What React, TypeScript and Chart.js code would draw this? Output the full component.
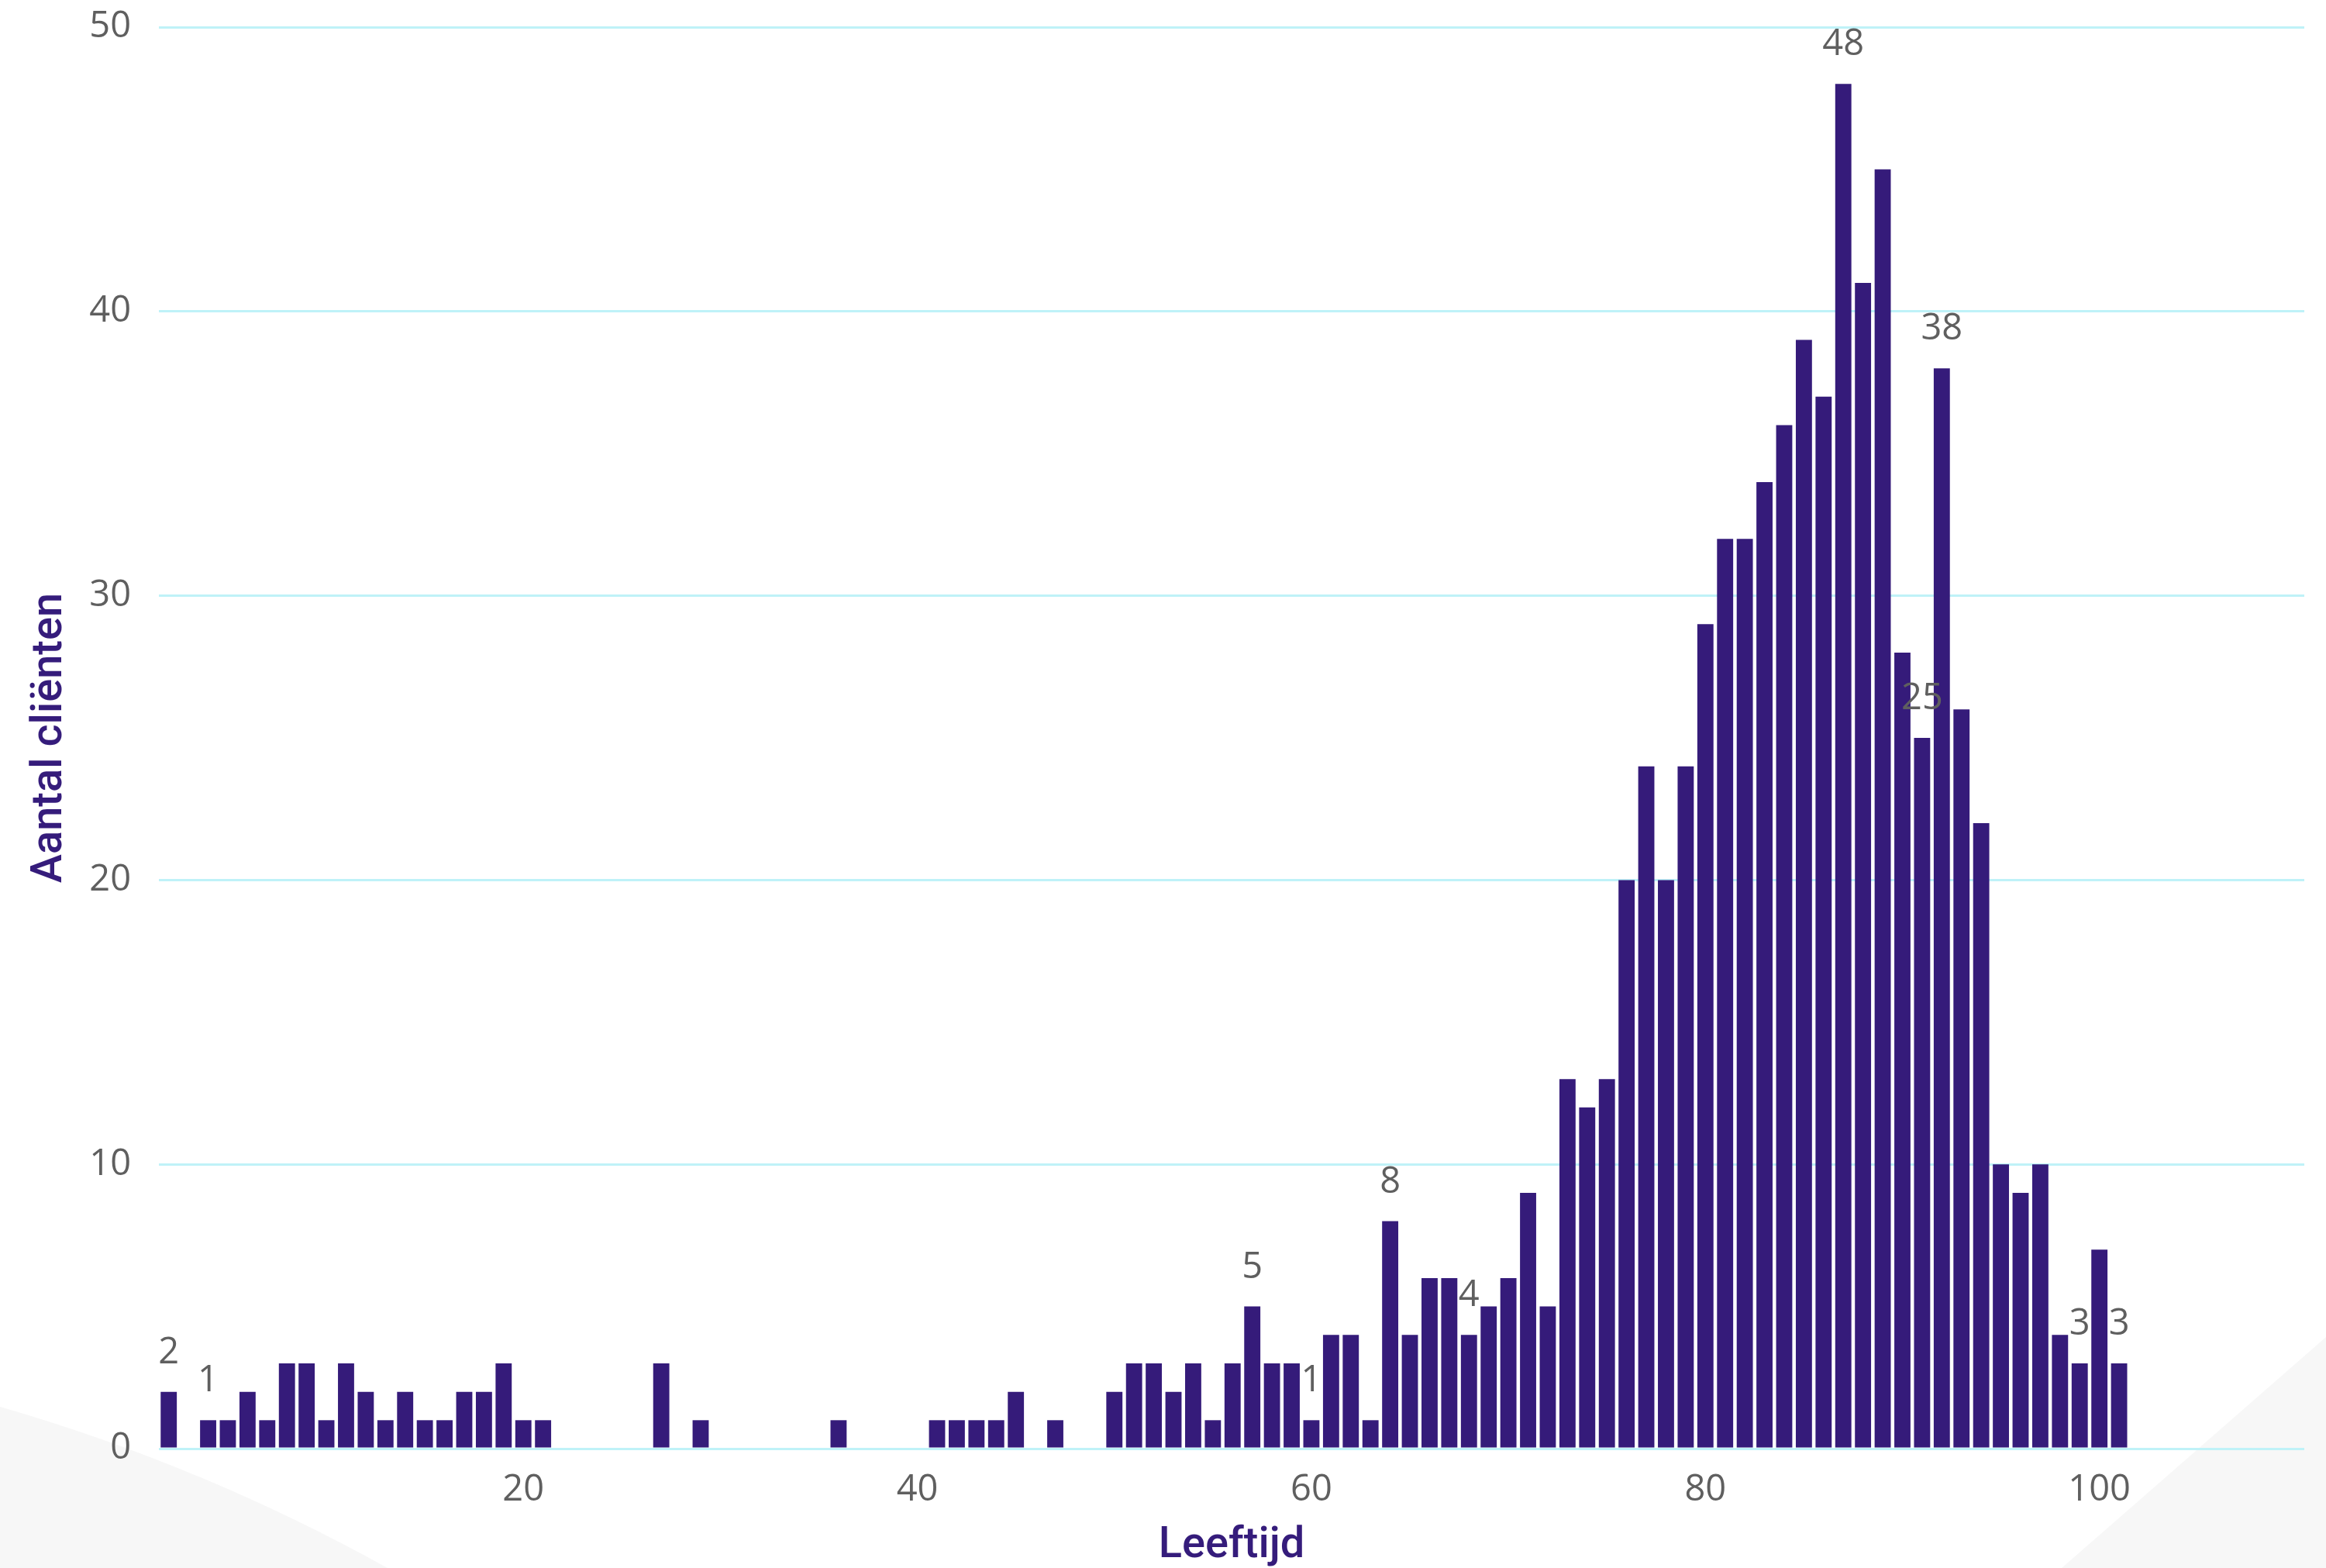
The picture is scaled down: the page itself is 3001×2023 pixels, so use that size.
import React, { useEffect, useRef } from "react";
import { Chart, registerables } from "chart.js";

Chart.register(...registerables);

const ages = [
  2, 4, 5, 6, 7, 8, 9, 10, 11, 12, 13, 14, 15, 16, 17, 18, 19, 20, 21,
  27, 29, 36, 41, 42, 43, 44, 45, 47,
  50, 51, 52, 53, 54, 55, 56, 57, 58, 59,
  60, 61, 62, 63, 64, 65, 66, 67, 68, 69,
  70, 71, 72, 73, 74, 75, 76, 77, 78, 79,
  80, 81, 82, 83, 84, 85, 86, 87, 88, 89,
  90, 91, 92, 93, 94, 95, 96, 97, 98, 99,
  100, 101,
];

const counts = [
  2, 1, 1, 2, 1, 3, 3, 1, 3, 2, 1, 2, 1, 1, 2, 2, 3, 1, 1,
  3, 1, 1, 1, 1, 1, 1, 2, 1,
  2, 3, 3, 2, 3, 1, 3, 5, 3, 3,
  1, 4, 4, 1, 8, 4, 6, 6, 4, 5,
  6, 9, 5, 13, 12, 13, 20, 24, 20, 24,
  29, 32, 32, 34, 36, 39, 37, 48, 41, 45,
  28, 25, 38, 26, 22, 10, 9, 10, 4, 3,
  7, 3,
];

const labeledAges = [2, 4, 57, 60, 64, 68, 87, 91, 92, 99, 101];
const xTickValues = [20, 40, 60, 80, 100];
const xTitle = "Leeftijd";
const yTitle = "Aantal cliënten";

const BAR_COLOR = "#351B7A";
const TITLE_COLOR = "#351C7B";
const TEXT_COLOR = "#5F5F5F";
const GRID_COLOR = "#BFF2F8";
const NUM_FONT = "'Open Sans', 'Noto Sans', sans-serif";
const TITLE_FONT = "Roboto, 'Noto Sans', sans-serif";

const labelPlugin = {
  id: "barValueLabels",
  afterDatasetsDraw(chart: any) {
    const ctx = chart.ctx;
    const meta = chart.getDatasetMeta(0);
    ctx.save();
    ctx.font = `47px ${NUM_FONT}`;
    ctx.fillStyle = TEXT_COLOR;
    ctx.textAlign = "center";
    ctx.textBaseline = "alphabetic";
    labeledAges.forEach((age) => {
      const i = ages.indexOf(age);
      if (i < 0) return;
      const el = meta.data[i];
      ctx.fillText(String(counts[i]), el.x, el.y - 37);
    });
    ctx.restore();
  },
};

export default function App() {
  const ref = useRef<HTMLCanvasElement | null>(null);

  useEffect(() => {
    document.body.style.margin = "0";
    const canvas = ref.current;
    if (!canvas) return;
    const chart = new Chart(canvas, {
      type: "bar",
      data: {
        datasets: [
          {
            data: ages.map((a, i) => ({ x: a, y: counts[i] })),
            backgroundColor: BAR_COLOR,
            borderWidth: 0,
            barPercentage: 0.82,
            categoryPercentage: 1,
          },
        ],
      },
      options: {
        responsive: false,
        animation: false,
        devicePixelRatio: 1,
        layout: { padding: { top: 35, right: 28, bottom: 0, left: 0 } },
        plugins: {
          legend: { display: false },
          tooltip: { enabled: false },
        },
        scales: {
          x: {
            type: "linear",
            min: 1.5,
            max: 110.4,
            offset: false,
            grid: { display: false, offset: false },
            border: { display: false },
            afterBuildTicks: (scale: any) => {
              scale.ticks = xTickValues.map((v) => ({ value: v }));
            },
            afterFit: (scale: any) => {
              scale.height = 154;
              scale.paddingLeft = 0;
              scale.paddingRight = 0;
            },
            ticks: {
              autoSkip: false,
              maxRotation: 0,
              padding: 17,
              color: TEXT_COLOR,
              font: { family: NUM_FONT, size: 47 },
            },
            title: {
              display: true,
              text: xTitle,
              color: TITLE_COLOR,
              font: { family: TITLE_FONT, size: 56, weight: "500", lineHeight: 1 },
              padding: { top: 0, bottom: 0 },
            },
          },
          y: {
            min: 0,
            max: 50,
            grid: {
              color: GRID_COLOR,
              lineWidth: 3,
              drawTicks: false,
            },
            border: { display: false },
            afterFit: (scale: any) => {
              scale.width = 205;
              scale.paddingTop = 0;
              scale.paddingBottom = 0;
            },
            ticks: {
              stepSize: 10,
              padding: 36,
              color: TEXT_COLOR,
              font: { family: NUM_FONT, size: 47 },
            },
            title: {
              display: true,
              text: yTitle,
              color: TITLE_COLOR,
              font: { family: TITLE_FONT, size: 56, weight: "500", lineHeight: 1.2 },
              padding: { top: 31, bottom: 0 },
            },
          },
        },
      },
      plugins: [labelPlugin],
    });
    return () => chart.destroy();
  }, []);

  return (
    <div
      style={{
        position: "absolute",
        left: 0,
        top: 0,
        width: 3001,
        height: 2023,
        background: "#FFFFFF",
        overflow: "hidden",
      }}
    >
      <svg
        width={3001}
        height={2023}
        style={{ position: "absolute", left: 0, top: 0 }}
      >
        <path d="M0 1815 Q 260 1890 500 2023 L 0 2023 Z" fill="#F7F7F7" />
        <path d="M3001 1725 L 2660 2023 L 3001 2023 Z" fill="#F7F7F7" />
      </svg>
      <canvas
        ref={ref}
        width={3001}
        height={2023}
        style={{ position: "absolute", left: 0, top: 0 }}
      />
    </div>
  );
}
